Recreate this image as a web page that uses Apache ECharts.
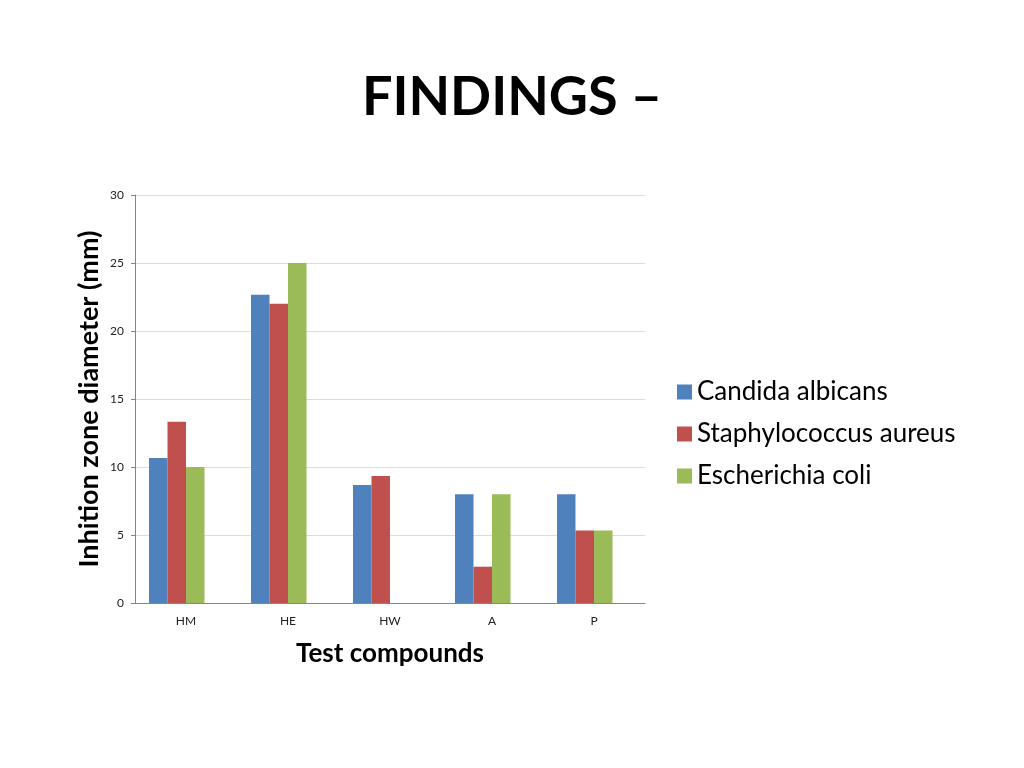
<!DOCTYPE html>
<html>
<head>
<meta charset="utf-8">
<script src="https://cdn.jsdelivr.net/npm/echarts@6/dist/echarts.min.js"></script>
<style>
	html, body { margin: 0; padding: 0; background: #fff; }
	#show { width: 1024px; height: 768px; }
</style>
</head>
<body>
<div id="show"></div>
<script>
	// 数据
	var categories = ['HM', 'HE', 'HW', 'A', 'P'];
	var seriesNames = ['Candida albicans', 'Staphylococcus aureus', 'Escherichia coli'];
	var candida = [10.67, 22.67, 8.67, 8, 8];
	var staph = [13.33, 22, 9.33, 2.67, 5.33];
	var ecoli = [10, 25, 0, 8, 5.33];
	// 原图里有一个空的第四个系列, 所以每组柱子偏左
	var emptySeries = [];
	var colors = ['#4F81BD', '#C0504D', '#9BBB59'];

	var myEchart = echarts.init(document.getElementById('show'));

	var font = 'Lato, "Liberation Sans", sans-serif';
	var values = [candida, staph, ecoli];
	var seriesData = [];
	for (var i = 0; i < values.length; i++) {
		seriesData.push({
			name: seriesNames[i],
			type: 'bar',
			data: values[i],
			barWidth: 18.5,
			barGap: '0%',
			itemStyle: { color: colors[i] }
		});
	}
	seriesData.push({
		name: 'Series 4',
		type: 'bar',
		data: emptySeries,
		barWidth: 18.5,
		barGap: '0%'
	});

	var option = {
		animation: false,
		textStyle: { fontFamily: font },
		title: {
			text: 'FINDINGS \u2013',
			left: 'center',
			top: 66,
			textStyle: { fontSize: 54, fontWeight: 'bold', color: '#000', fontFamily: font }
		},
		legend: {
			orient: 'vertical',
			left: 672,
			top: 374,
			itemWidth: 15,
			itemHeight: 15,
			itemGap: 16,
			icon: 'rect',
			textStyle: { fontSize: 26, color: '#000', fontFamily: font },
			data: seriesNames
		},
		grid: { left: 135, right: 379, top: 195, bottom: 165 },
		xAxis: {
			type: 'category',
			data: categories,
			name: 'Test compounds',
			nameLocation: 'middle',
			nameGap: 38,
			nameTextStyle: { fontSize: 26, fontWeight: 'bold', color: '#000' },
			axisLine: { lineStyle: { color: '#868686' } },
			axisTick: { show: false },
			axisLabel: { fontSize: 12, color: '#222', margin: 12 }
		},
		yAxis: {
			type: 'value',
			min: 0,
			max: 30,
			interval: 5,
			name: 'Inhition zone diameter (mm)',
			nameLocation: 'middle',
			nameGap: 32,
			nameTextStyle: { fontSize: 27, fontWeight: 'bold', color: '#000' },
			axisLine: { show: true, lineStyle: { color: '#868686' } },
			axisTick: { show: true, length: 4, lineStyle: { color: '#868686' } },
			axisLabel: { fontSize: 12, color: '#222', margin: 11 },
			splitLine: { lineStyle: { color: '#D8DCE7' } }
		},
		series: seriesData
	};
	myEchart.setOption(option);
</script>
</body>
</html>
